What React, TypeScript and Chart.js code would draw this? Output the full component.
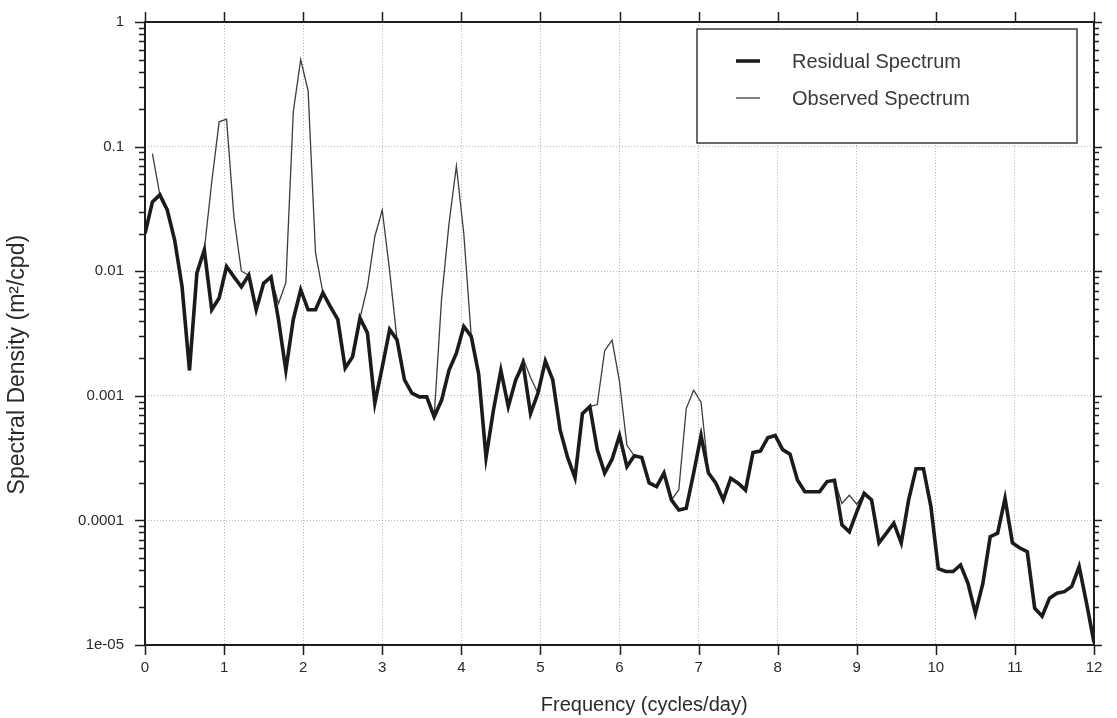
import React, { useEffect, useRef } from "react";
import { Chart, registerables } from "chart.js";

Chart.register(...registerables);

// Frequency resolution of the spectrum (cycles/day)
const FREQ_STEP = 0.09375;

const seriesNames = ["Residual Spectrum", "Observed Spectrum"];
const xTitle = "Frequency (cycles/day)";
const yTitle = "Spectral Density (m²/cpd)";

// Residual spectrum (m^2/cpd), one value per frequency bin
const residual: number[] = [
  0.020, 0.036, 0.041, 0.031, 0.0178, 0.0075, 0.0016, 0.0097, 0.0148, 0.0049,
  0.0061, 0.0109, 0.0090, 0.0075, 0.0093, 0.0049, 0.0080, 0.0090, 0.0041, 0.0016,
  0.0041, 0.0071, 0.0049, 0.0049, 0.0067, 0.0052, 0.0041, 0.00167, 0.00206, 0.0042,
  0.0032, 0.00087, 0.0017, 0.0034, 0.0028, 0.00134, 0.00105, 0.00098, 0.00098, 0.00068,
  0.00092, 0.0016, 0.0022, 0.0036, 0.0030, 0.0015, 0.00032, 0.00077, 0.0016, 0.00082,
  0.00134, 0.0018, 0.00072, 0.00105, 0.0019, 0.00134, 0.00053, 0.00032, 0.00022, 0.00072,
  0.00082, 0.00037, 0.00024, 0.00031, 0.00048, 0.00027, 0.00033, 0.00032, 0.00020, 0.000187,
  0.00024, 0.000146, 0.000121, 0.000125, 0.00024, 0.00048, 0.00024, 0.000199, 0.000146, 0.000218,
  0.000199, 0.000175, 0.00035, 0.00036, 0.00046, 0.00048, 0.00037, 0.00034, 0.000211, 0.00017,
  0.00017, 0.00017, 0.000205, 0.00021, 0.000092, 0.000081, 0.000117, 0.000165, 0.000146, 0.000066,
  0.000079, 0.000095, 0.000066, 0.000146, 0.00026, 0.00026, 0.000129, 0.000041, 0.0000389, 0.0000389,
  0.0000439, 0.0000313, 0.000018, 0.000031, 0.000074, 0.000079, 0.00015, 0.000066, 0.00006, 0.0000561,
  0.0000197, 0.000017, 0.0000237, 0.000026, 0.0000268, 0.0000295, 0.0000426, 0.0000216, 0.0000105,
];

// Observed spectrum (m^2/cpd); same bins, tidal peaks included
const observed: (number | null)[] = [
  null, 0.088, 0.041, 0.031, 0.0178, 0.0075, 0.0016, 0.0097, 0.0148, 0.052,
  0.158, 0.166, 0.027, 0.0100, 0.0093, 0.0049, 0.0080, 0.0090, 0.0055, 0.0081,
  0.19, 0.50, 0.28, 0.014, 0.0067, 0.0052, 0.0041, 0.00167, 0.00206, 0.0042,
  0.0075, 0.019, 0.031, 0.010, 0.0028, 0.00134, 0.00105, 0.00098, 0.00098, 0.00068,
  0.006, 0.024, 0.070, 0.020, 0.0030, 0.0015, 0.00032, 0.00077, 0.0016, 0.00082,
  0.00134, 0.0020, 0.0014, 0.00105, 0.0019, 0.00134, 0.00053, 0.00032, 0.00022, 0.00072,
  0.00082, 0.00085, 0.0023, 0.0028, 0.0013, 0.0004, 0.00033, 0.00032, 0.00020, 0.000187,
  0.00024, 0.000146, 0.000176, 0.00079, 0.00111, 0.00089, 0.00024, 0.000199, 0.000146, 0.000218,
  0.000199, 0.000175, 0.00035, 0.00036, 0.00046, 0.00048, 0.00037, 0.00034, 0.000211, 0.00017,
  0.00017, 0.00017, 0.000205, 0.00021, 0.000137, 0.000159, 0.000135, 0.000165, 0.000146, 0.000066,
  0.000079, 0.000095, 0.000066, 0.000146, 0.00026, 0.00026, 0.000129, 0.000041, 0.0000389, 0.0000389,
  0.0000439, 0.0000313, 0.000018, 0.000031, 0.000074, 0.000079, 0.00015, 0.000066, 0.00006, 0.0000561,
  0.0000197, 0.000017, 0.0000237, 0.000026, 0.0000268, 0.0000295, 0.0000426, 0.0000216, 0.0000105,
];

const xTickValues = [0, 1, 2, 3, 4, 5, 6, 7, 8, 9, 10, 11, 12];
const yTickValues = [1e-5, 1e-4, 1e-3, 1e-2, 1e-1, 1];
const yTickLabels = ["1e-05", "0.0001", "0.001", "0.01", "0.1", "1"];

const FONT = "'Liberation Sans', Arial, Helvetica, sans-serif";
const TEXT = "#2a2a2a";
const GRID = "rgba(110,110,110,0.5)";

const framePlugin = {
  id: "frame",
  afterDraw(chart: any) {
    const { ctx, chartArea: a, scales } = chart;
    const xs = scales.x;
    const ys = scales.y;
    ctx.save();
    ctx.setLineDash([]);
    ctx.strokeStyle = "#1e1e1e";
    ctx.lineWidth = 2;
    ctx.strokeRect(a.left, a.top, a.right - a.left, a.bottom - a.top);
    ctx.lineWidth = 1.5;
    ctx.beginPath();
    for (const v of xTickValues) {
      const px = Math.round(xs.getPixelForValue(v)) + 0.5;
      ctx.moveTo(px, a.bottom);
      ctx.lineTo(px, a.bottom + 10);
      ctx.moveTo(px, a.top);
      ctx.lineTo(px, a.top - 10);
    }
    for (let d = 0; d < yTickValues.length; d++) {
      const dec = yTickValues[d];
      const py = Math.round(ys.getPixelForValue(dec)) + 0.5;
      ctx.moveTo(a.left - 10, py);
      ctx.lineTo(a.left, py);
      ctx.moveTo(a.right, py);
      ctx.lineTo(a.right + 8, py);
      if (d < yTickValues.length - 1) {
        for (let m = 2; m <= 9; m++) {
          const pm = Math.round(ys.getPixelForValue(dec * m)) + 0.5;
          ctx.moveTo(a.left - 6, pm);
          ctx.lineTo(a.left, pm);
          ctx.moveTo(a.right, pm);
          ctx.lineTo(a.right + 5, pm);
        }
      }
    }
    ctx.stroke();

    // axis titles (placed as in the original figure)
    ctx.fillStyle = TEXT;
    ctx.textAlign = "center";
    ctx.textBaseline = "middle";
    ctx.font = `20px ${FONT}`;
    ctx.fillText(xTitle, a.left + (a.right - a.left) * 0.526, a.bottom + 60);
    ctx.translate(18, a.top + (a.bottom - a.top) * 0.55);
    ctx.rotate(-Math.PI / 2);
    ctx.font = `23px ${FONT}`;
    ctx.fillText(yTitle, 0, 0);
    ctx.restore();
  },
};

const legendPlugin = {
  id: "boxLegend",
  afterDraw(chart: any) {
    const { ctx, chartArea: a } = chart;
    const bx = a.right - 397;
    const by = a.top + 7;
    const bw = 380;
    const bh = 114;
    ctx.save();
    ctx.setLineDash([]);
    ctx.fillStyle = "#ffffff";
    ctx.fillRect(bx, by, bw, bh);
    ctx.strokeStyle = "#3a3a3a";
    ctx.lineWidth = 1.5;
    ctx.strokeRect(bx, by, bw, bh);
    const rows = [by + 32, by + 69];
    chart.data.datasets.forEach((ds: any, i: number) => {
      const y = rows[i];
      ctx.strokeStyle = ds.borderColor;
      ctx.lineWidth = ds.borderWidth;
      ctx.beginPath();
      ctx.moveTo(bx + 39, y);
      ctx.lineTo(bx + 63, y);
      ctx.stroke();
      ctx.fillStyle = "#3a3a3a";
      ctx.font = `20px ${FONT}`;
      ctx.textAlign = "left";
      ctx.textBaseline = "middle";
      ctx.fillText(ds.label, bx + 95, y + 1);
    });
    ctx.restore();
  },
};

export default function App() {
  const ref = useRef<HTMLCanvasElement>(null);

  useEffect(() => {
    document.body.style.margin = "0";
    const canvas = ref.current;
    if (!canvas) return;
    const freq = residual.map((_, k) => k * FREQ_STEP);
    const toPoints = (arr: (number | null)[]) =>
      arr.map((v, i) => ({ x: freq[i], y: v }));

    const chart = new Chart(canvas, {
      type: "line",
      data: {
        datasets: [
          {
            label: seriesNames[0],
            data: toPoints(residual) as any,
            borderColor: "#1b1b1b",
            borderWidth: 3.6,
            pointRadius: 0,
            tension: 0,
            order: 0,
          },
          {
            label: seriesNames[1],
            data: toPoints(observed) as any,
            borderColor: "#3c3c3c",
            borderWidth: 1.3,
            pointRadius: 0,
            tension: 0,
            order: 1,
            spanGaps: false,
          },
        ],
      },
      options: {
        animation: false,
        responsive: false,
        devicePixelRatio: 1,
        layout: { padding: { top: 22, right: 23, left: 0, bottom: 0 } },
        plugins: {
          legend: { display: false },
          tooltip: { enabled: false },
        },
        scales: {
          x: {
            type: "linear",
            min: 0,
            max: 12,
            afterBuildTicks: (s: any) => {
              s.ticks = xTickValues.map((v) => ({ value: v }));
            },
            afterFit: (s: any) => {
              s.height = 73;
            },
            ticks: {
              autoSkip: false,
              maxRotation: 0,
              padding: 0,
              color: TEXT,
              font: { family: FONT, size: 15 },
              callback: (v: any) => String(v),
            },
            grid: {
              drawTicks: true,
              tickLength: 14,
              tickColor: "rgba(0,0,0,0)",
              color: GRID,
              lineWidth: 1,
            },
            border: { display: false, dash: [1, 2] },
            title: { display: false },
          },
          y: {
            type: "logarithmic",
            min: 1e-5,
            max: 1,
            afterBuildTicks: (s: any) => {
              s.ticks = yTickValues.map((v) => ({ value: v }));
            },
            afterFit: (s: any) => {
              s.width = 145;
            },
            ticks: {
              autoSkip: false,
              padding: 0,
              color: TEXT,
              font: { family: FONT, size: 15 },
              callback: (v: any) => {
                const i = yTickValues.findIndex(
                  (t) => Math.abs(Math.log10(t) - Math.log10(Number(v))) < 1e-6
                );
                return i >= 0 ? yTickLabels[i] : "";
              },
            },
            grid: {
              drawTicks: true,
              tickLength: 21,
              tickColor: "rgba(0,0,0,0)",
              color: GRID,
              lineWidth: 1,
            },
            border: { display: false, dash: [1, 2] },
            title: { display: false },
          },
        },
      },
      plugins: [framePlugin, legendPlugin],
    });
    return () => chart.destroy();
  }, []);

  return (
    <div style={{ width: 1117, height: 718 }}>
      <canvas ref={ref} width={1117} height={718} style={{ display: "block" }} />
    </div>
  );
}
